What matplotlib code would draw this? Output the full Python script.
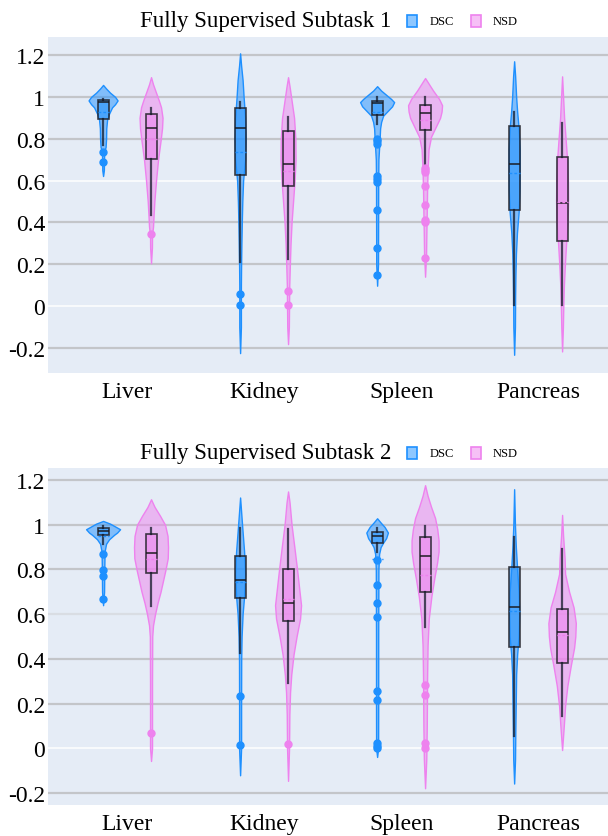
"""Violin + box comparison of DSC / NSD per organ, two subtasks stacked."""
import matplotlib
matplotlib.use("Agg")
import matplotlib.pyplot as plt
from matplotlib.colors import to_rgba
from matplotlib.patches import Rectangle

plt.rcParams["font.family"] = ["Liberation Serif", "DejaVu Serif"]

ORGANS = ["Liver", "Kidney", "Spleen", "Pancreas"]
METRICS = ["DSC", "NSD"]
TITLES = ["Fully Supervised Subtask 1", "Fully Supervised Subtask 2"]
YTICKS = [-0.2, 0, 0.2, 0.4, 0.6, 0.8, 1.0, 1.2]
YTICK_LABELS = ["-0.2", "0", "0.2", "0.4", "0.6", "0.8", "1", "1.2"]

# box stats per organ: [whisker low, q1, median, q3, whisker high]
T1_DSC_BOX = [[0.768, 0.894, 0.975, 0.985, 0.990],
              [0.213, 0.627, 0.852, 0.948, 0.975],
              [0.871, 0.912, 0.969, 0.980, 1.000],
              [0.006, 0.462, 0.678, 0.860, 0.927]]
T1_DSC_MEAN = [0.930, 0.737, 0.930, 0.637]
T1_DSC_OUT = [[0.735, 0.687],
              [0.056, 0.005],
              [0.800, 0.788, 0.775, 0.621, 0.607, 0.595, 0.461, 0.279, 0.149],
              []]
T1_NSD_BOX = [[0.435, 0.703, 0.853, 0.918, 0.947],
              [0.224, 0.575, 0.681, 0.835, 0.903],
              [0.668, 0.840, 0.923, 0.963, 1.000],
              [0.006, 0.311, 0.493, 0.711, 0.875]]
T1_NSD_MEAN = [0.800, 0.644, 0.890, 0.500]
T1_NSD_OUT = [[0.347],
              [0.071, 0.005],
              [0.660, 0.650, 0.640, 0.573, 0.482, 0.411, 0.403, 0.229],
              []]

T2_DSC_BOX = [[0.913, 0.953, 0.973, 0.987, 0.995],
              [0.425, 0.674, 0.752, 0.862, 0.987],
              [0.876, 0.920, 0.950, 0.969, 0.987],
              [0.055, 0.455, 0.631, 0.810, 0.947]]
T2_DSC_MEAN = [0.950, 0.745, 0.846, 0.615]
T2_DSC_OUT = [[0.871, 0.796, 0.769, 0.667],
              [0.233, 0.013],
              [0.841, 0.731, 0.650, 0.589, 0.255, 0.218, 0.022, 0.012, 0.000],
              []]
T2_NSD_BOX = [[0.637, 0.784, 0.875, 0.960, 0.987],
              [0.291, 0.571, 0.649, 0.801, 0.983],
              [0.541, 0.699, 0.860, 0.947, 0.995],
              [0.145, 0.383, 0.522, 0.625, 0.893]]
T2_NSD_MEAN = [0.846, 0.670, 0.774, 0.507]
T2_NSD_OUT = [[0.067],
              [0.017],
              [0.285, 0.237, 0.022, 0.001],
              []]

# violin outlines: score levels and half widths (px)
T1_DSC_VY = [[1.057, 1.04, 1.02, 1.0, 0.983, 0.965, 0.95, 0.92, 0.89, 0.85, 0.80, 0.76, 0.74, 0.70, 0.65, 0.622],
             [1.208, 1.15, 1.08, 1.0, 0.9, 0.8, 0.7, 0.6, 0.5, 0.4, 0.3, 0.2, 0.1, 0.0, -0.1, -0.224],
             [1.051, 1.03, 1.01, 0.99, 0.975, 0.955, 0.935, 0.91, 0.88, 0.85, 0.80, 0.70, 0.60, 0.40, 0.20, 0.098],
             [1.17, 1.1, 1.0, 0.93, 0.85, 0.75, 0.65, 0.55, 0.45, 0.35, 0.25, 0.15, 0.05, -0.1, -0.232]]
T1_DSC_VW = [[0, 3, 7, 12, 14.5, 12, 9, 6, 4, 3.2, 3, 2.5, 1.2, 0.9, 0.8, 0],
             [0, 1, 2.5, 3.5, 5, 5.5, 5, 3, 2.2, 1.7, 1.3, 1, 0.8, 0.8, 0.8, 0],
             [0, 4, 9, 14, 17, 15, 11, 6, 4, 3, 2.5, 1.3, 1.1, 1, 0.9, 0],
             [0, 1, 2, 3, 4.5, 5.5, 5.5, 5.3, 4.5, 2.8, 1.8, 1.3, 1.0, 0.8, 0]]
T1_NSD_VY = [[1.094, 1.06, 1.02, 0.98, 0.95, 0.90, 0.85, 0.79, 0.70, 0.60, 0.50, 0.43, 0.38, 0.34, 0.28, 0.205],
             [1.094, 1.05, 1.0, 0.9, 0.8, 0.7, 0.6, 0.5, 0.4, 0.3, 0.2, 0.1, 0.0, -0.1, -0.181],
             [1.09, 1.06, 1.03, 0.99, 0.96, 0.93, 0.90, 0.86, 0.81, 0.75, 0.65, 0.55, 0.45, 0.35, 0.25, 0.141],
             [1.098, 1.0, 0.9, 0.8, 0.7, 0.6, 0.5, 0.4, 0.3, 0.2, 0.1, 0.0, -0.1, -0.216]]
T1_NSD_VW = [[0, 2, 5, 8, 10, 11.5, 11, 9.5, 7, 5, 3.3, 2.5, 2, 1, 0.9, 0],
             [0, 1.5, 3, 6, 7.3, 7.5, 6.5, 5, 3.5, 2.5, 1.8, 1.2, 1, 0.8, 0],
             [0, 4, 8, 14, 17, 16.5, 15, 11, 6, 3.5, 2.5, 2, 1.7, 1.3, 1, 0],
             [0, 1, 2, 3.5, 5, 5.8, 6, 5.5, 4, 2.8, 1.8, 1.2, 0.8, 0]]

T2_DSC_VY = [[1.017, 1.005, 0.99, 0.98, 0.965, 0.955, 0.935, 0.915, 0.88, 0.80, 0.70, 0.64],
             [1.122, 1.06, 0.98, 0.88, 0.78, 0.68, 0.6, 0.5, 0.4, 0.2, 0.0, -0.121],
             [1.029, 1.01, 0.99, 0.965, 0.94, 0.92, 0.90, 0.87, 0.80, 0.50, 0.20, 0.0, -0.039],
             [1.159, 1.0, 0.9, 0.8, 0.7, 0.6, 0.5, 0.42, 0.33, 0.2, 0.08, -0.05, -0.158]]
T2_DSC_VW = [[0, 7, 13, 17, 14, 11, 6, 3, 1.5, 1.2, 1, 0],
             [0, 1, 2.3, 4, 5, 4, 2.5, 1.5, 1.1, 1, 1, 0],
             [0, 3.5, 7.5, 10.8, 9, 6, 3.5, 2, 1.3, 1.1, 1.1, 1, 0],
             [0, 0.8, 1.7, 3, 4.5, 5, 4.5, 3, 2, 1.6, 1.2, 0.9, 0]]
T2_NSD_VY = [[1.114, 1.08, 1.04, 1.0, 0.95, 0.9, 0.85, 0.8, 0.75, 0.7, 0.65, 0.6, 0.55, 0.5, 0.3, 0.1, 0.0, -0.057],
             [1.149, 1.1, 1.0, 0.9, 0.8, 0.7, 0.64, 0.58, 0.5, 0.42, 0.33, 0.25, 0.15, 0.0, -0.146],
             [1.177, 1.13, 1.08, 1.03, 0.98, 0.93, 0.88, 0.83, 0.76, 0.68, 0.58, 0.46, 0.31, 0.1, -0.05, -0.179],
             [1.044, 0.95, 0.85, 0.78, 0.7, 0.63, 0.56, 0.5, 0.45, 0.37, 0.28, 0.19, 0.1, -0.008]]
T2_NSD_VW = [[0, 3.5, 9, 14, 16.5, 17, 16.7, 14.5, 12, 9.5, 6.5, 4, 2, 1.2, 1, 1, 1, 0],
             [0, 1.5, 3.5, 6.3, 9, 11.5, 13, 12, 8.5, 5.5, 3.2, 2, 1.3, 1, 0],
             [0, 2.5, 6, 10, 12.2, 13.5, 13.5, 12, 9.2, 6.3, 3.7, 2.5, 2, 1.7, 1.2, 0],
             [0, 1, 2.5, 3, 7, 11.5, 13.7, 13.2, 12, 8.7, 5.3, 3, 1.7, 0]]

PANELS = [
    {"DSC": (T1_DSC_BOX, T1_DSC_MEAN, T1_DSC_OUT, T1_DSC_VY, T1_DSC_VW),
     "NSD": (T1_NSD_BOX, T1_NSD_MEAN, T1_NSD_OUT, T1_NSD_VY, T1_NSD_VW)},
    {"DSC": (T2_DSC_BOX, T2_DSC_MEAN, T2_DSC_OUT, T2_DSC_VY, T2_DSC_VW),
     "NSD": (T2_NSD_BOX, T2_NSD_MEAN, T2_NSD_OUT, T2_NSD_VY, T2_NSD_VW)},
]

COLORS = {"DSC": "#1e90ff", "NSD": "#ee82ee"}
OFFSET = {"DSC": -0.175, "NSD": 0.175}
PX = 1 / 137          # one pixel in category units
BG = "#e5ecf6"

W, H = 608, 837
fig = plt.figure(figsize=(W / 100, H / 100), dpi=100)

# axes boxes in pixels: (top, bottom), y-limits, gridline colours
layout = [
    {"top": 38, "bottom": 374, "ylim": (-0.319, 1.286), "title_y": 27},
    {"top": 469, "bottom": 806, "ylim": (-0.254, 1.254), "title_y": 459},
]
grid_col = [
    {0.6: "white", 0.0: "white"},
    {0.6: "#d9dde3", 0.0: "white"},
]

for p, (panel, lay) in enumerate(zip(PANELS, layout)):
    ax = fig.add_axes([48 / W, 1 - lay["bottom"] / H, 1 - 48 / W,
                       (lay["bottom"] - lay["top"]) / H])
    ax.set_facecolor(BG)
    for s in ax.spines.values():
        s.set_visible(False)
    for yv in YTICKS:
        c = grid_col[p].get(round(yv, 1), "#c3c5c9")
        ax.axhline(yv, color=c, lw=1.6 if c != "white" else 1.1, zorder=0)

    for m in METRICS:
        box, mean, out, vy, vw = panel[m]
        col = COLORS[m]
        pos = [i + OFFSET[m] for i in range(len(ORGANS))]
        for x0, ys, ws in zip(pos, vy, vw):
            left = [x0 - w * PX for w in ws]
            right = [x0 + w * PX for w in ws]
            ax.fill_betweenx(ys, left, right, facecolor=to_rgba(col, 0.5),
                             edgecolor=col, lw=1.0, zorder=2)
        stats = [{"whislo": b[0], "q1": b[1], "med": b[2], "q3": b[3],
                  "whishi": b[4], "mean": mn, "fliers": fl}
                 for b, mn, fl in zip(box, mean, out)]
        ax.bxp(stats, positions=pos, widths=11 * PX, patch_artist=True,
               showcaps=False, showmeans=True, meanline=True,
               boxprops=dict(facecolor=to_rgba(col, 0.55),
                             edgecolor=(0.12, 0.12, 0.15, 0.85), lw=1.2),
               whiskerprops=dict(color=(0.08, 0.1, 0.16, 0.75), lw=1.6),
               medianprops=dict(color=(0.1, 0.1, 0.12, 0.9), lw=1.2),
               meanprops=dict(color=col, ls=(0, (2, 1.5)), lw=1.0),
               flierprops=dict(marker="o", markerfacecolor=col,
                               markeredgecolor=col, markersize=5),
               zorder=3)

    ax.set_xlim(-0.577, 3.51)
    ax.set_ylim(*lay["ylim"])
    ax.set_xticks(range(len(ORGANS)))
    ax.set_xticklabels(ORGANS, fontsize=17)
    ax.set_yticks(YTICKS)
    ax.set_yticklabels(YTICK_LABELS, fontsize=17)
    ax.tick_params(length=0, axis="y", pad=2)
    ax.tick_params(length=0, axis="x", pad=6)

    fig.text(265.5 / W, 1 - lay["title_y"] / H, TITLES[p], ha="center",
             va="baseline", fontsize=16.5)
    # legend
    ty = lay["title_y"] - 5
    for xs, xt, m in [(407, 430, "DSC"), (471, 493, "NSD")]:
        fig.add_artist(Rectangle((xs / W, 1 - (ty + 6) / H), 10 / W, 12 / H,
                                 transform=fig.transFigure,
                                 facecolor=to_rgba(COLORS[m], 0.5),
                                 edgecolor=COLORS[m], lw=1.2))
        fig.text(xt / W, 1 - ty / H, m, ha="left", va="center", fontsize=9)

fig.savefig("out.png", dpi=100)
